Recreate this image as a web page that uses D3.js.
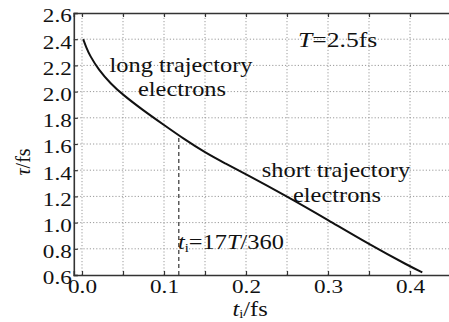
<!DOCTYPE html>
<html><head><meta charset="utf-8">
<script src="https://cdn.jsdelivr.net/npm/d3@7"></script>
<style>
body{margin:0;background:#fff;}
</style></head>
<body><svg id="c" width="449" height="322"></svg>
<script>
const tiValues = [0.0015, 0.005, 0.01, 0.02, 0.035, 0.05, 0.075, 0.1, 0.125, 0.15, 0.175, 0.2, 0.25, 0.3, 0.35, 0.4, 0.415];
const tauValues = [2.40, 2.34, 2.27, 2.17, 2.06, 1.975, 1.855, 1.745, 1.635, 1.535, 1.45, 1.37, 1.20, 1.02, 0.835, 0.665, 0.62];
const xTicks = [0, 0.05, 0.1, 0.15, 0.2, 0.25, 0.3, 0.35, 0.4, 0.45];
const xLabels = [0, 0.1, 0.2, 0.3, 0.4];
const yTicks = [0.6, 0.8, 1.0, 1.2, 1.4, 1.6, 1.8, 2.0, 2.2, 2.4, 2.6];
const markerT = 17 * 2.5 / 360;

const FONT = '"Liberation Serif", "Times New Roman", serif';
const SX = 1.22;
const svg = d3.select("#c");
const x = d3.scaleLinear().domain([-0.01, 0.45]).range([73.8, 451]);
const y = d3.scaleLinear().domain([0.6, 2.6]).range([275, 13]);

// grid
const grid = svg.append("g").attr("stroke", "#9a9a9a").attr("stroke-width", 1).attr("stroke-dasharray", "1.2,2");
grid.selectAll(".vx").data(xTicks).join("line")
  .attr("x1", d => x(d)).attr("x2", d => x(d)).attr("y1", y(0.6)).attr("y2", y(2.6));
grid.selectAll(".hy").data(yTicks.slice(1, -1)).join("line")
  .attr("x1", x(-0.01)).attr("x2", 449).attr("y1", d => y(d)).attr("y2", d => y(d));

// axes
const xAxis = d3.axisBottom(x).tickValues(xTicks).tickSize(-4).tickFormat(d => xLabels.some(v => Math.abs(v - d) < 1e-9) ? d3.format(".1f")(d) : "").tickPadding(4);
const gx = svg.append("g").attr("transform", `translate(0,${y(0.6)})`).call(xAxis);
const xTop = d3.axisTop(x).tickValues(xTicks).tickSize(-4).tickFormat("");
const gxt = svg.append("g").attr("transform", `translate(0,${y(2.6)})`).call(xTop);
const yAxis = d3.axisLeft(y).tickValues(yTicks).tickSize(-4).tickFormat(d3.format(".1f")).tickPadding(2);
const gy = svg.append("g").attr("transform", `translate(${x(-0.01)},0)`).call(yAxis);
[gx, gxt, gy].forEach(g => {
  g.attr("font-family", FONT).attr("font-size", 19);
  g.select(".domain").attr("stroke", "#333").attr("stroke-width", 1.6);
  g.selectAll(".tick line").attr("stroke", "#333").attr("stroke-width", 1.2);
  g.selectAll("text").attr("font-size", 19).attr("fill", "#111").attr("font-family", FONT)
    .attr("transform", `scale(${SX},1)`);
});
gx.selectAll(".tick text").attr("dy", "0.72em");
gy.selectAll(".tick text").attr("dy", "0.47em").attr("x", -2 / SX);

// dashed marker line
const fInterp = d3.scaleLinear().domain(tiValues).range(tauValues);
svg.append("line").attr("x1", x(markerT)).attr("x2", x(markerT))
  .attr("y1", y(0.6)).attr("y2", y(fInterp(markerT)))
  .attr("stroke", "#333").attr("stroke-width", 1.2).attr("stroke-dasharray", "4,3");

// curve
const data = tiValues.map((t, i) => [t, tauValues[i]]);
svg.append("path").datum(data)
  .attr("fill", "none").attr("stroke", "#111").attr("stroke-width", 2)
  .attr("d", d3.line().x(d => x(d[0])).y(d => y(d[1])).curve(d3.curveBasis));

// annotations
const txt = svg.append("g").attr("font-family", FONT).attr("fill", "#111").attr("font-size", 20);
function label(px, py, anchor) {
  return txt.append("text").attr("transform", `translate(${px},${py}) scale(${SX},1)`).attr("text-anchor", anchor);
}
label(181, 72, "middle").text("long trajectory");
label(182, 96, "middle").text("electrons");
label(336, 177, "middle").text("short trajectory");
label(337, 202, "middle").text("electrons");

const tt = label(298, 47, "start").attr("font-size", 21);
tt.append("tspan").attr("font-style", "italic").text("T");
tt.append("tspan").text("=2.5fs");

const tl = label(178, 249, "start");
tl.append("tspan").attr("font-style", "italic").text("t");
tl.append("tspan").attr("font-size", 12).attr("dy", 3).text("i");
tl.append("tspan").attr("dy", -3).text("=17");
tl.append("tspan").attr("font-style", "italic").text("T");
tl.append("tspan").text("/360");

const xt = label(250, 316, "middle");
xt.append("tspan").attr("font-style", "italic").text("t");
xt.append("tspan").attr("font-size", 12).attr("dy", 2).text("i");
xt.append("tspan").attr("dy", -2).text("/fs");

const yt = txt.append("text").attr("transform", "translate(30,162) rotate(-90)").attr("text-anchor", "middle");
yt.append("tspan").attr("font-style", "italic").text("τ");
yt.append("tspan").text("/fs");
</script></body></html>
